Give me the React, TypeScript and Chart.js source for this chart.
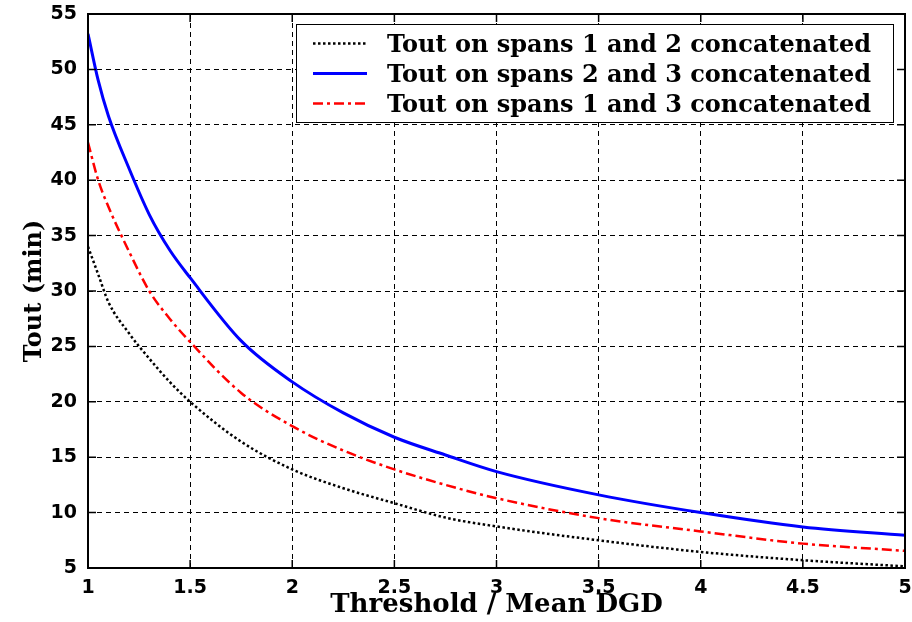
import { useEffect, useRef } from "react";
import { Chart, registerables } from "chart.js";

Chart.register(...registerables);

// Threshold normalised by the mean DGD
const thresholds = [1, 1.05, 1.1, 1.2, 1.3, 1.4, 1.5, 1.75, 2, 2.25, 2.5, 2.75, 3, 3.5, 4, 4.5, 5];

// Tout (min) for each pair of concatenated spans
const spans12 = [34.0, 31.5, 29.0, 26.2, 23.9, 21.8, 20.0, 16.4, 13.9, 12.2, 10.85, 9.55, 8.75, 7.5, 6.45, 5.7, 5.15];
const spans23 = [53.2, 49.0, 45.8, 41.1, 36.9, 33.7, 31.2, 25.5, 21.8, 19.0, 16.8, 15.2, 13.7, 11.6, 10.0, 8.7, 7.95];
const spans13 = [43.4, 40.0, 37.6, 33.6, 30.0, 27.5, 25.4, 20.8, 17.8, 15.6, 13.9, 12.5, 11.3, 9.5, 8.3, 7.2, 6.55];

const seriesLabels = [
  "Tout on spans 1 and 2 concatenated",
  "Tout on spans 2 and 3 concatenated",
  "Tout on spans 1 and 3 concatenated",
];

const xTicks = [1, 1.5, 2, 2.5, 3, 3.5, 4, 4.5, 5];
const yTicks = [5, 10, 15, 20, 25, 30, 35, 40, 45, 50, 55];

const xTitle = "Threshold / Mean DGD";
const yTitle = "Tout (min)";

const serifBold = { family: "'DejaVu Serif'", weight: "bold" as const, size: 24 };
const serifBoldLarge = { family: "'DejaVu Serif'", weight: "bold" as const, size: 26 };
const sansBold = { family: "'DejaVu Sans'", weight: "bold" as const, size: 19 };

// Box frame with inward tick marks on all four sides
const framePlugin = {
  id: "frameTicks",
  afterDatasetsDraw(chart: any) {
    const { ctx, chartArea, scales } = chart;
    const { left, right, top, bottom } = chartArea;
    const x = scales.x;
    const y = scales.y;
    const len = 8;
    ctx.save();
    ctx.setLineDash([]);
    ctx.strokeStyle = "#000";
    ctx.lineWidth = 1.5;
    ctx.beginPath();
    for (const v of xTicks) {
      const px = x.getPixelForValue(v);
      ctx.moveTo(px, bottom);
      ctx.lineTo(px, bottom - len);
      ctx.moveTo(px, top);
      ctx.lineTo(px, top + len);
    }
    for (const v of yTicks) {
      const py = y.getPixelForValue(v);
      ctx.moveTo(left, py);
      ctx.lineTo(left + len, py);
      ctx.moveTo(right, py);
      ctx.lineTo(right - len, py);
    }
    ctx.stroke();
    ctx.lineWidth = 2;
    ctx.strokeRect(left, top, right - left, bottom - top);
    ctx.restore();
  },
};

// Boxed legend in the upper right of the plot area
const boxLegendPlugin = {
  id: "boxLegend",
  afterDraw(chart: any) {
    const { ctx, chartArea } = chart;
    const boxLeft = chartArea.left + 208;
    const boxTop = chartArea.top + 10;
    const boxRight = chartArea.right - 12;
    const boxHeight = 98;
    const rowHeight = 30;
    ctx.save();
    ctx.fillStyle = "#fff";
    ctx.fillRect(boxLeft, boxTop, boxRight - boxLeft, boxHeight);
    ctx.setLineDash([]);
    ctx.strokeStyle = "#000";
    ctx.lineWidth = 1;
    ctx.strokeRect(boxLeft + 0.5, boxTop + 0.5, boxRight - boxLeft, boxHeight);
    chart.data.datasets.forEach((ds: any, i: number) => {
      const cy = boxTop + 19.5 + i * rowHeight;
      ctx.save();
      ctx.setLineDash(ds.borderDash || []);
      ctx.strokeStyle = ds.borderColor;
      ctx.lineWidth = ds.borderWidth;
      ctx.beginPath();
      ctx.moveTo(boxLeft + 17, cy);
      ctx.lineTo(boxLeft + 71, cy);
      ctx.stroke();
      ctx.restore();
      ctx.fillStyle = "#000";
      ctx.font = `bold ${serifBold.size}px ${serifBold.family}`;
      ctx.textBaseline = "alphabetic";
      ctx.textAlign = "left";
      ctx.fillText(ds.label, boxLeft + 91, cy + 8.5);
    });
    ctx.restore();
  },
};

export default function App() {
  const canvasRef = useRef<HTMLCanvasElement | null>(null);

  useEffect(() => {
    document.body.style.margin = "0";
    const canvas = canvasRef.current;
    if (!canvas) return;

    const toPoints = (values: number[]) => thresholds.map((t, i) => ({ x: t, y: values[i] }));

    const chart = new Chart(canvas, {
      type: "line",
      data: {
        datasets: [
          {
            label: seriesLabels[0],
            data: toPoints(spans12),
            borderColor: "#000000",
            borderWidth: 2.5,
            borderDash: [2.5, 2.5],
            pointRadius: 0,
            cubicInterpolationMode: "monotone",
            fill: false,
          },
          {
            label: seriesLabels[1],
            data: toPoints(spans23),
            borderColor: "#0000ff",
            borderWidth: 3,
            borderDash: [],
            pointRadius: 0,
            cubicInterpolationMode: "monotone",
            fill: false,
          },
          {
            label: seriesLabels[2],
            data: toPoints(spans13),
            borderColor: "#ff0000",
            borderWidth: 2.5,
            borderDash: [10, 4, 3, 4],
            pointRadius: 0,
            cubicInterpolationMode: "monotone",
            fill: false,
          },
        ],
      },
      options: {
        animation: false,
        responsive: false,
        devicePixelRatio: 1,
        layout: { padding: { top: 14, right: 7, left: 0, bottom: 0 } },
        plugins: {
          legend: { display: false },
          tooltip: { enabled: false },
        },
        scales: {
          x: {
            type: "linear",
            min: 1,
            max: 5,
            afterBuildTicks: (scale: any) => {
              scale.ticks = xTicks.map((v) => ({ value: v }));
            },
            afterFit: (scale: any) => {
              scale.height = 54;
              scale.paddingLeft = 0;
              scale.paddingRight = 0;
            },
            ticks: {
              autoSkip: false,
              maxRotation: 0,
              padding: 9,
              color: "#000",
              font: sansBold,
              callback: (v: any) => String(v),
            },
            grid: { color: "#000", lineWidth: 1, drawTicks: false },
            border: { display: false, dash: [5, 4] },
            title: {
              display: true,
              text: xTitle,
              color: "#000",
              font: serifBoldLarge,
              padding: { top: 0, bottom: 1 },
            },
          },
          y: {
            type: "linear",
            min: 5,
            max: 55,
            afterBuildTicks: (scale: any) => {
              scale.ticks = yTicks.map((v) => ({ value: v }));
            },
            afterFit: (scale: any) => {
              scale.width = 88;
              scale.paddingTop = 0;
              scale.paddingBottom = 0;
            },
            ticks: {
              autoSkip: false,
              padding: 11,
              color: "#000",
              font: sansBold,
              callback: (v: any) => String(v),
            },
            grid: { color: "#000", lineWidth: 1, drawTicks: false },
            border: { display: false, dash: [5, 4] },
            title: {
              display: true,
              text: yTitle,
              color: "#000",
              font: serifBold,
              padding: { top: 20, bottom: 0 },
            },
          },
        },
      },
      plugins: [framePlugin, boxLegendPlugin],
    });

    return () => chart.destroy();
  }, []);

  return <canvas ref={canvasRef} width={912} height={622} style={{ display: "block" }} />;
}
